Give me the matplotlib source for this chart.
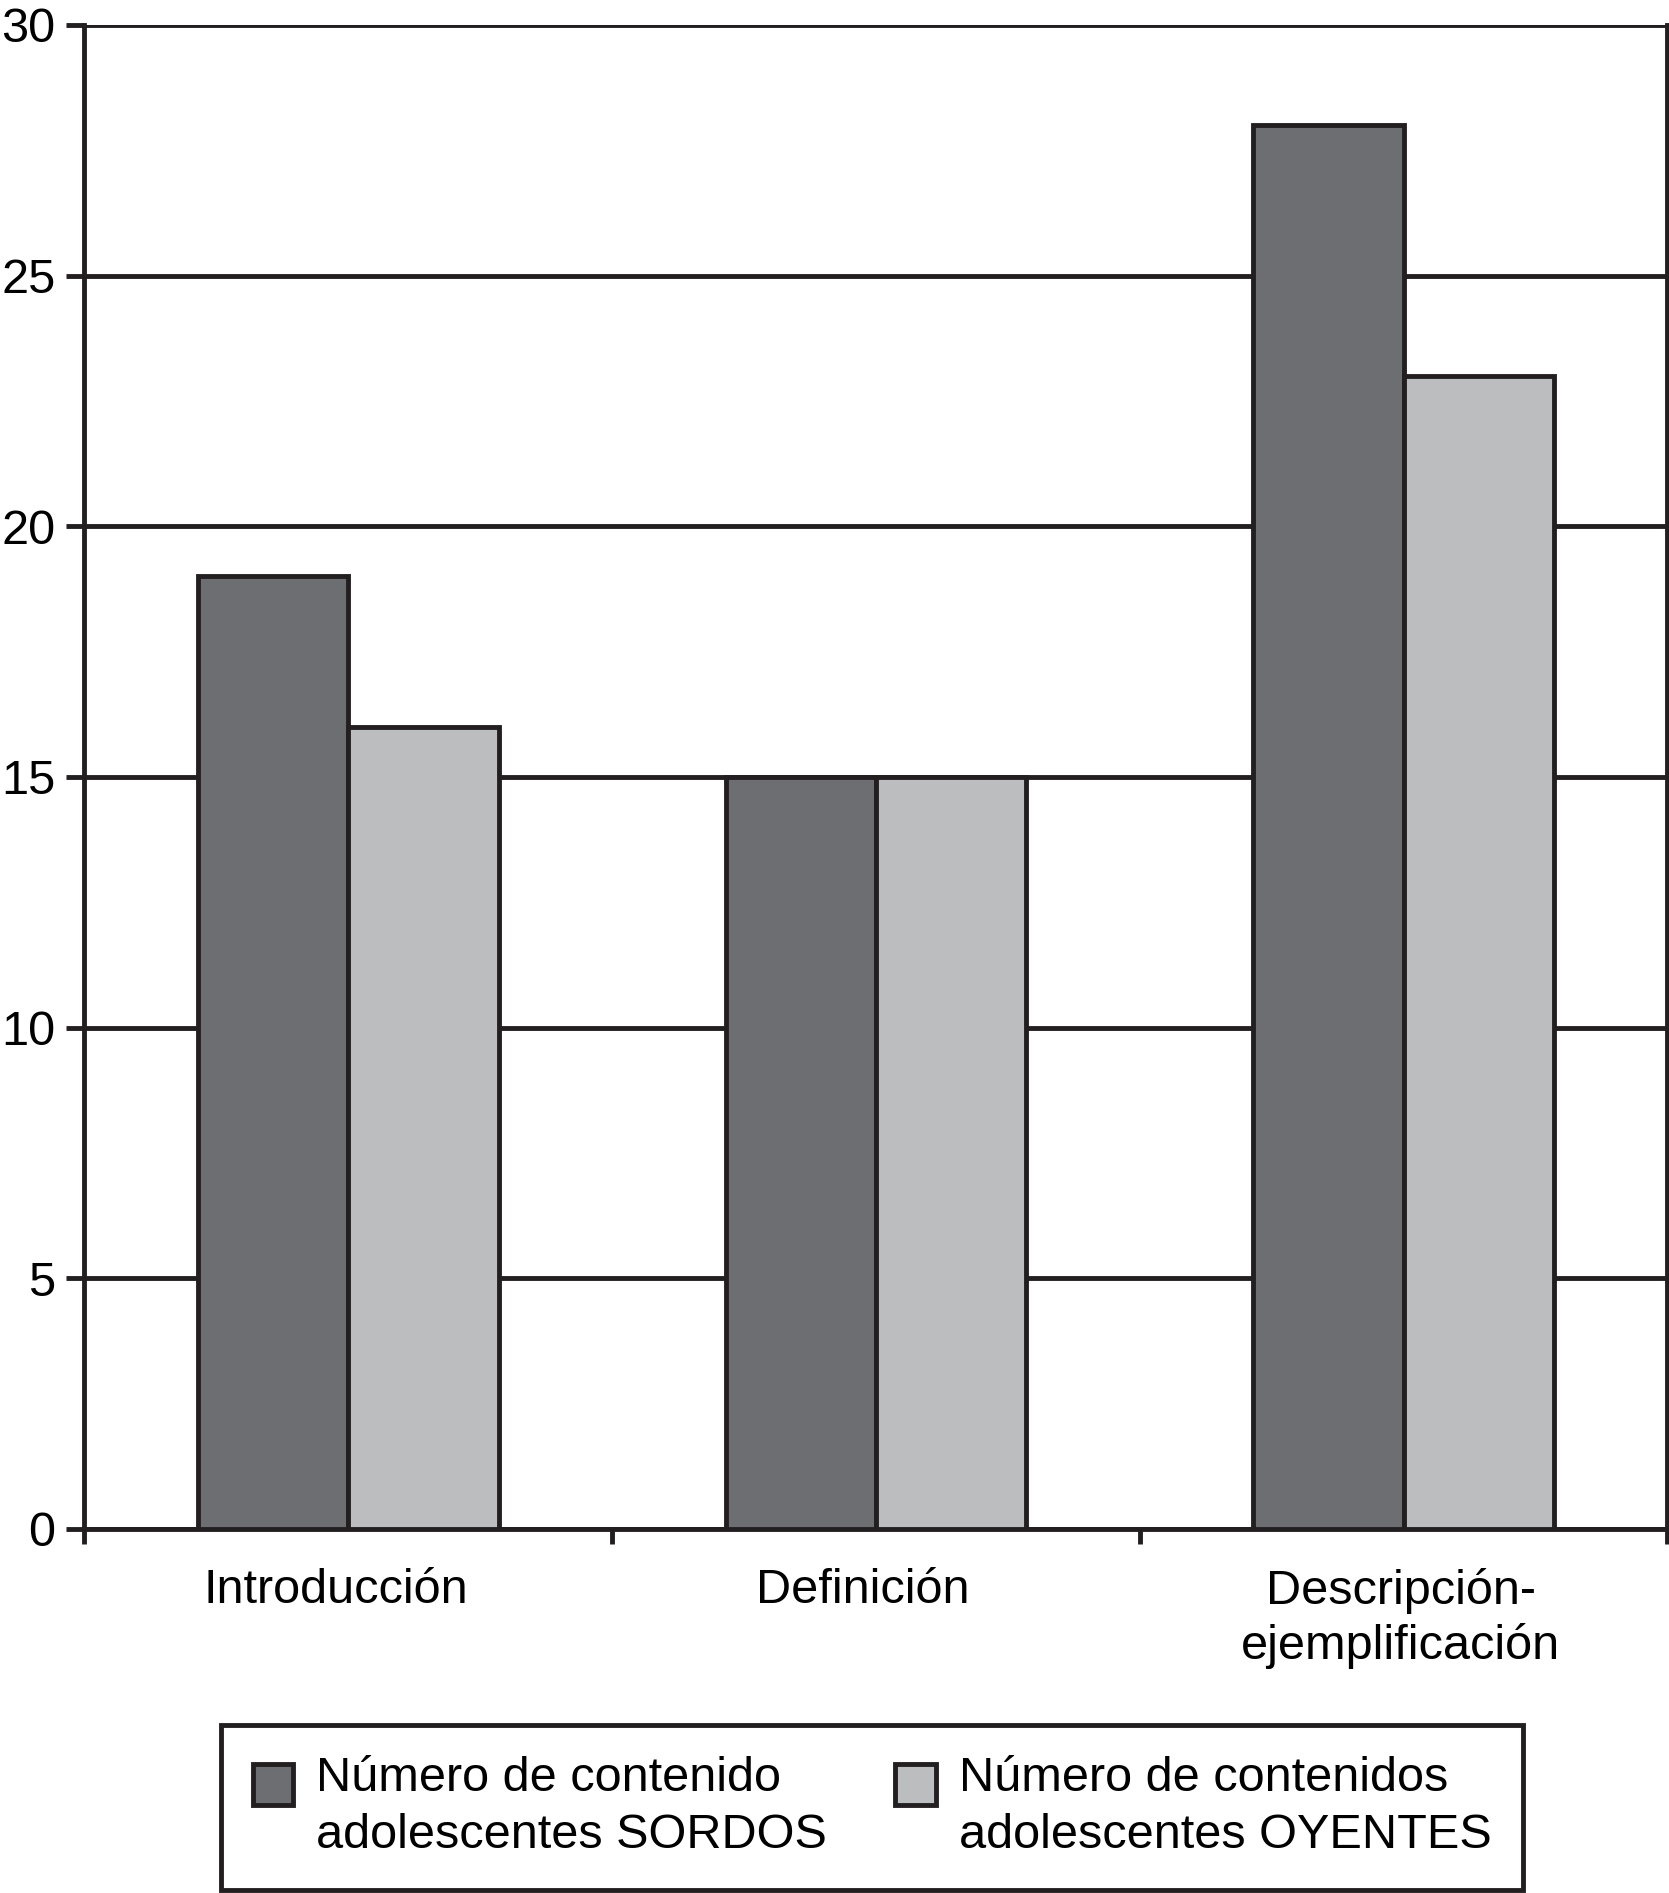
import matplotlib
matplotlib.use("Agg")
import matplotlib.pyplot as plt
from matplotlib.patches import Rectangle
from matplotlib.legend_handler import HandlerPatch
from matplotlib.transforms import ScaledTranslation
import numpy as np

# datos
categorias = ["Introducción", "Definición", "Descripción-\nejemplificación"]
sordos = [19, 15, 28]
oyentes = [16, 15, 23]
etiquetas = ["Número de contenido\nadolescentes SORDOS",
             "Número de contenidos\nadolescentes OYENTES"]
yticks = [0, 5, 10, 15, 20, 25, 30]

OSCURO = "#6d6e71"
CLARO = "#bcbdbf"
NEGRO = "#231f20"
LW = 3.5

plt.rcParams['font.family'] = ['Liberation Sans', 'DejaVu Sans']
plt.rcParams['font.size'] = 35

fig = plt.figure(figsize=(16.69, 18.93), dpi=100)
ax = fig.add_axes([0.0506, 0.1923, 0.9484, 0.7945])

x = np.arange(len(categorias))
w = 0.285
b1 = ax.bar(x - w / 2, sordos, w, color=OSCURO, edgecolor=NEGRO, linewidth=LW, zorder=3)
b2 = ax.bar(x + w / 2, oyentes, w, color=CLARO, edgecolor=NEGRO, linewidth=LW, zorder=3)

ax.set_xlim(-0.5, len(categorias) - 0.5)
ax.set_ylim(0, 30)
ax.set_yticks(yticks)
ax.yaxis.grid(True, color=NEGRO, linewidth=LW)
ax.set_axisbelow(True)

ax.set_xticks(x)
ax.set_xticklabels(categorias, linespacing=1.25, va="top")
ax.tick_params(axis="x", which="major", length=0, pad=28)
ax.set_xticks(np.arange(len(categorias) + 1) - 0.5, minor=True)
ax.tick_params(axis="x", which="minor", length=11, width=LW, color=NEGRO)
ax.tick_params(axis="y", length=13, width=LW, color=NEGRO, pad=8)

# pequeño desplazamiento de las etiquetas como en el original
for lab, dx in zip(ax.get_xticklabels(), [-12, -13, -3]):
    lab.set_transform(lab.get_transform() + ScaledTranslation(dx / 100, 0, fig.dpi_scale_trans))

for s in ["left", "bottom", "right"]:
    ax.spines[s].set_linewidth(LW)
    ax.spines[s].set_color(NEGRO)
ax.spines["top"].set_visible(False)


class ManijaArriba(HandlerPatch):
    # cuadro de la leyenda alineado con la primera linea
    def create_artists(self, legend, orig_handle, xdescent, ydescent, width, height, fontsize, trans):
        s = 0.83 * fontsize
        p = Rectangle((-xdescent, height - ydescent - s + 0.12 * fontsize), s, s,
                      facecolor=orig_handle.get_facecolor(), edgecolor=NEGRO,
                      linewidth=LW, transform=trans)
        return [p]


leg = fig.legend([b1[0], b2[0]], etiquetas, loc="lower left",
                 bbox_to_anchor=(0.1324, 0.0016), ncol=2,
                 fancybox=False, edgecolor=NEGRO, framealpha=1,
                 handlelength=0.83, handleheight=2.1, handletextpad=0.48,
                 columnspacing=1.4, borderpad=0.65, borderaxespad=0,
                 handler_map={Rectangle: ManijaArriba()})
leg.get_frame().set_linewidth(LW)
for t in leg.get_texts():
    t.set_linespacing(1.35)

fig.savefig("out.png", dpi=100)
